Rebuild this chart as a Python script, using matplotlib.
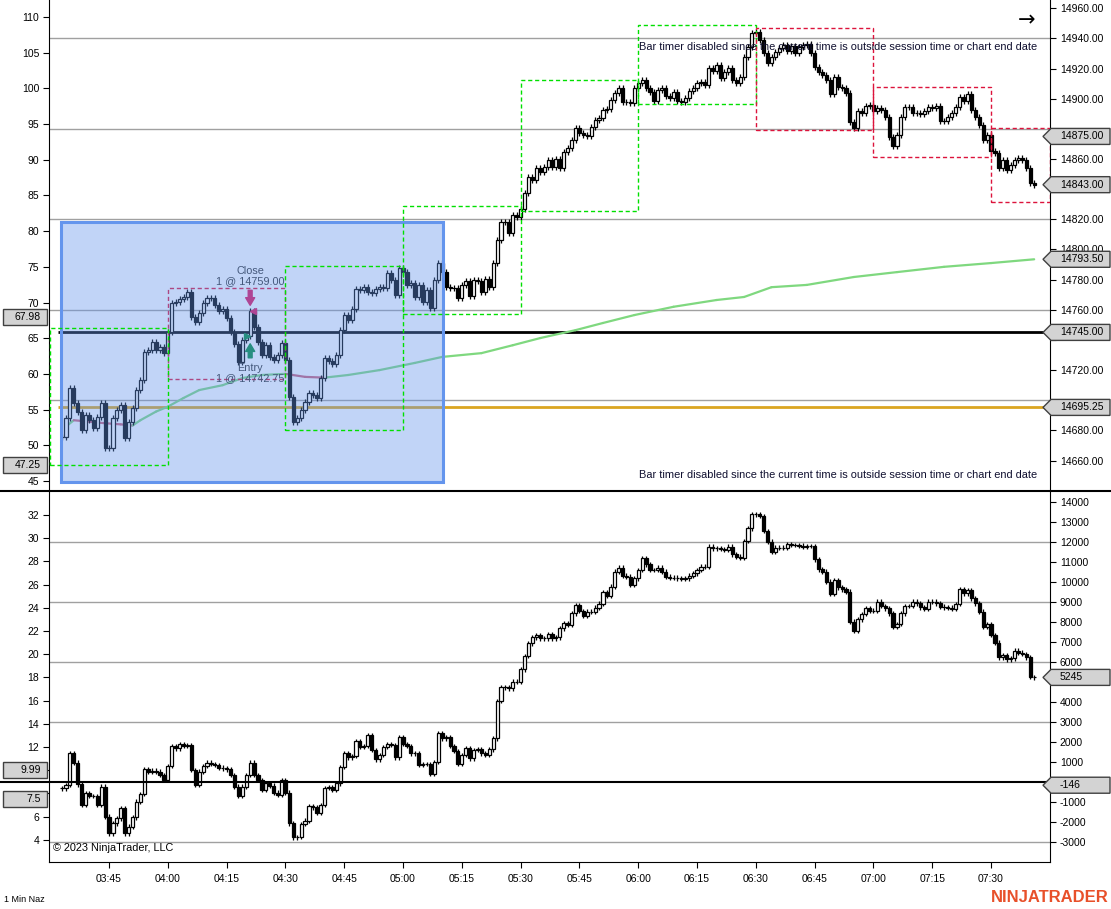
import matplotlib
matplotlib.use('Agg')
import matplotlib.pyplot as plt
import matplotlib.patches as patches
from matplotlib.lines import Line2D
from matplotlib.transforms import IdentityTransform, offset_copy
import numpy as np

plt.rcParams['font.family'] = ['Liberation Sans', 'DejaVu Sans']

# ---- data (1 min bars, first bar 03:33) ----
START = '03:33'

price_close = [
    14675.5, 14688.25, 14708, 14698.25, 14692.25, 14680.25, 14690.25, 14687, 14681.5, 14689,
    14698.25, 14668.25, 14668.25, 14688.25, 14693.5, 14697, 14675, 14685.5, 14695, 14706.75,
    14713.5, 14732, 14733.25, 14738.75, 14733.25, 14735.25, 14731.5, 14745.25, 14764.5, 14765.25,
    14767.25, 14768.5, 14771.75, 14755.25, 14752, 14758, 14764.5, 14767.75, 14767.75, 14763.25,
    14759.25, 14760.5, 14754.5, 14745.25, 14737.25, 14725.5, 14740, 14742.75, 14759.0, 14748.5,
    14738.75, 14730, 14736.75, 14728.75, 14726.75, 14730, 14738, 14726.75, 14702.25, 14685.5,
    14688.25, 14693.5, 14699, 14704.75, 14703.5, 14701.5, 14714.75, 14728, 14726, 14724,
    14730, 14746.5, 14756.5, 14753.25, 14760.5, 14773.75, 14773, 14775, 14771.75, 14771.25,
    14773.75, 14775, 14774.5, 14784.5, 14779.75, 14769.75, 14787.75, 14785, 14776.5, 14777.75,
    14768.5, 14776.5, 14765.25, 14773, 14761.25, 14779.75, 14791, 14785, 14775, 14774.5,
    14774.5, 14767.75, 14776.5, 14779, 14769.25, 14779.75, 14779, 14771.75, 14780.5, 14775,
    14791, 14806.25, 14818.25, 14818.25, 14811, 14823, 14821.5, 14827, 14837.5, 14848,
    14846, 14854, 14851.5, 14854.75, 14859.5, 14854.75, 14860, 14854, 14864.75, 14867.25,
    14872.5, 14880.5, 14877.25, 14876, 14875.25, 14881.25, 14886, 14887.25, 14892.5, 14893.25,
    14899.25, 14903.75, 14907, 14897.75, 14897.75, 14897.25, 14907, 14910.5, 14912.5, 14907,
    14904.5, 14898.5, 14905.75, 14907, 14901.75, 14900.5, 14904.5, 14898.5, 14897.75, 14900.5,
    14905, 14907, 14910.5, 14911, 14909, 14920.5, 14918.5, 14922.5, 14913.75, 14917.75,
    14920.5, 14912.5, 14910.5, 14914.5, 14927.75, 14934.25, 14943.5, 14944.25, 14939, 14930.25,
    14923.75, 14927.75, 14931, 14933.75, 14935.75, 14931.75, 14935, 14930.25, 14934.25, 14935.75,
    14936.25, 14930.25, 14921, 14917.75, 14915.75, 14912.5, 14903, 14914.5, 14907.75, 14907,
    14903.75, 14884.5, 14880.5, 14892, 14890.5, 14895.25, 14896, 14892, 14894, 14892.5,
    14888, 14874.5, 14868.75, 14876, 14888, 14894.5, 14894.5, 14890.5, 14890.5, 14890,
    14892, 14894.5, 14894, 14895.25, 14885.25, 14885.25, 14888, 14890.5, 14894.5, 14901.25,
    14898.5, 14903.25, 14892.5, 14888, 14882.5, 14872.5, 14876, 14865.25, 14864, 14854,
    14859.5, 14852.75, 14856, 14859.5, 14860.75, 14859.5, 14854, 14844, 14843,
]

delta_close = [
    -302, -136, 1448, 981, -102, -1136, -552, -686, -680, -1136,
    -219, -1719, -2553, -2053, -1803, -1303, -2553, -2219, -1753, -969,
    -586, 648, 531, 581, 531, 365, 114, 815, 1815, 1698,
    1915, 1815, 1865, 615, -135, 531, 815, 981, 915, 865,
    731, 698, 648, 365, -219, -686, -219, 365, 981, 365,
    114, -386, -52, -169, -519, -636, 114, -519, -2053, -2753,
    -2720, -2086, -1919, -1186, -1250, -1519, -1135, -285, -220, -385,
    -50, 780, 1447, 1247, 1315, 2080, 1780, 1815, 2365, 1615,
    1147, 1364, 1780, 1914, 1864, 1247, 2247, 1914, 1814, 1447,
    1480, 864, 914, 914, 414, 1030, 2480, 2197, 2247, 1814,
    1580, 914, 1364, 1697, 1197, 1614, 1647, 1447, 1364, 1647,
    2197, 4064, 4748, 4748, 4698, 5031, 5031, 5648, 6315, 6948,
    7248, 7350, 7198, 7198, 7415, 7198, 7248, 7700, 7947, 7865,
    8448, 8864, 8564, 8331, 8531, 8531, 8731, 8931, 9498, 9331,
    9781, 10531, 10731, 10331, 10281, 9864, 10198, 10615, 11198, 10898,
    10615, 10615, 10731, 10531, 10281, 10231, 10231, 10198, 10165, 10198,
    10331, 10448, 10615, 10781, 10781, 11781, 11698, 11698, 11665, 11615,
    11781, 11398, 11281, 11231, 12065, 12698, 13398, 13398, 13315, 12565,
    12031, 11531, 11731, 11731, 11731, 11898, 11865, 11865, 11832, 11782,
    11815, 11815, 11148, 10648, 10531, 10031, 9414, 10115, 9748, 9648,
    9531, 8031, 7581, 8148, 8414, 8698, 8581, 8581, 9031, 8815,
    8698, 8448, 7781, 7915, 8448, 8815, 8815, 9031, 8948, 8748,
    8681, 9031, 9031, 8948, 8781, 8748, 8731, 8681, 8915, 9648,
    9448, 9615, 9198, 8948, 8531, 7781, 7898, 7364, 6981, 6248,
    6364, 6148, 6198, 6581, 6481, 6415, 6248, 5280, 5245,
]

# moving average read at some bars
ma_idx = [1, 3, 7, 11, 15, 18, 20, 24, 27, 31, 35, 41, 46, 51, 57, 62, 67, 73, 81,
          90, 97, 107, 115, 122, 131, 138, 146, 156, 167, 174, 181, 190, 202, 213,
          225, 237, 248]
ma_val = [14682.5, 14686.75, 14685.75, 14684.75, 14684.0, 14683.25, 14686.75, 14692.5,
          14695.75, 14701.5, 14706.75, 14710.0, 14714.75, 14716.75, 14717.5, 14715.5,
          14715.0, 14716.75, 14720.0, 14724.75, 14728.75, 14731.25, 14736.5, 14741.25,
          14746.5, 14751.25, 14756.5, 14762.0, 14766.5, 14768.5, 14775.0, 14776.5,
          14781.75, 14785.0, 14788.5, 14791.0, 14793.5]

# 30 min range boxes
box_start = ['03:30', '04:00', '04:30', '05:00', '05:30', '06:00', '06:30', '07:00', '07:30']
box_high = [14748, 14774.25, 14789, 14829, 14912.5, 14949, 14947, 14907.75, 14880.5]
box_low = [14657, 14714, 14680.25, 14757.25, 14825.5, 14896.5, 14879.25, 14861.5, 14831.5]
box_up = [True, False, True, True, True, True, False, False, False]

blue_start, blue_end = '03:33', '05:10'
blue_high, blue_low = 14818.25, 14646.0

black_level = 14745.0
gold_level = 14695.25

trade_time = '04:21'
entry_price = 14742.75
exit_price = 14759.00

right_marks = ['14875.00', '14843.00', '14793.50', '14745.00', '14695.25']
left_marks = ['67.98', '47.25']
bottom_right_marks = ['5245', '-146']
bottom_left_marks = ['9.99', '7.5']

x_labels = ['03:45', '04:00', '04:15', '04:30', '04:45', '05:00', '05:15', '05:30',
            '05:45', '06:00', '06:15', '06:30', '06:45', '07:00', '07:15', '07:30']

timer_msg = 'Bar timer disabled since the current time is outside session time or chart end date'


def minutes(t):
    h, m = t.split(':')
    return int(h) * 60 + int(m)


def tidx(t):
    return minutes(t) - minutes(START)


W, H = 1111, 909
fig = plt.figure(figsize=(W / 100, H / 100), dpi=100)


def frac(x0, y0, x1, y1):
    return [x0 / W, 1 - y1 / H, (x1 - x0) / W, (y1 - y0) / H]


ax = fig.add_axes(frac(49, 0, 1050, 491))
axb = fig.add_axes(frac(49, 492, 1050, 862), sharex=ax)
XMIN, XMAX = -3.32, 252.04
ax.set_xlim(XMIN, XMAX)
ax.set_ylim(14639.8, 14965.5)
axb.set_ylim(-3985, 14515)

axl = ax.twinx()
axl.set_ylim(43.61, 112.38)
axbl = axb.twinx()
axbl.set_ylim(2.09, 33.98)

for a in (ax, axb):
    a.yaxis.tick_right()
for a in (axl, axbl):
    a.yaxis.tick_left()


def ypix(a, v):
    return H - a.transData.transform((0, v))[1]


def set_ticks(a, values, fmt, marks):
    # tick labels that sit under a value box are left out
    labels = []
    for v in values:
        hidden = any(abs(ypix(a, v) - ypix(a, float(m))) < 9 for m in marks)
        labels.append('' if hidden else fmt % v)
    a.set_yticks(values)
    a.set_yticklabels(labels)


set_ticks(ax, np.arange(14660, 14961, 20), '%.2f', right_marks)
set_ticks(axl, np.arange(45, 111, 5), '%d', left_marks)
set_ticks(axb, np.arange(-3000, 14001, 1000), '%d', bottom_right_marks)
set_ticks(axbl, np.arange(4, 33, 2), '%d', bottom_left_marks)

for a in (ax, axl, axb, axbl):
    a.tick_params(axis='y', direction='out', length=4, width=0.8, labelsize=7.5,
                  pad=3, colors='black')
    for s in a.spines.values():
        s.set_visible(False)
    a.patch.set_visible(False)
for a in (ax, axb):
    a.spines['right'].set_visible(True)
    a.spines['left'].set_visible(True)
axb.spines['bottom'].set_visible(True)

ax.tick_params(axis='x', bottom=False, labelbottom=False)
axb.set_xticks([tidx(t) for t in x_labels])
axb.set_xticklabels(x_labels)
axb.tick_params(axis='x', direction='out', length=4, width=0.8, labelsize=7.5, pad=5)

# grid lines
for v in [14940, 14880, 14820, 14760, 14700, 14640]:
    ax.axhline(v, color='#a0a0a0', lw=1, zorder=1)
for v in [12000, 9000, 6000, 3000, -3000]:
    axb.axhline(v, color='#a0a0a0', lw=1, zorder=1)

# horizontal levels
ax.hlines(black_level, -1, XMAX, color='black', lw=2, zorder=2)
ax.hlines(gold_level, -1, XMAX, color='#daa520', lw=2, zorder=2)


def draw_candles(a, closes, wick):
    c = np.asarray(closes, float)
    o = np.r_[c[0], c[:-1]]
    idx = np.arange(len(c))
    lo = np.minimum(o, c)
    hi = np.maximum(o, c)
    a.vlines(idx, lo - wick, hi + wick, color='black', lw=0.9, zorder=4)
    up = c >= o
    a.bar(idx[up], (hi - lo)[up], bottom=lo[up], width=0.8, facecolor='white',
          edgecolor='black', linewidth=0.9, zorder=4.1)
    a.bar(idx[~up], (hi - lo)[~up], bottom=lo[~up], width=0.8, facecolor='black',
          edgecolor='black', linewidth=0.9, zorder=4.1)


draw_candles(ax, price_close, 2.0)
draw_candles(axb, delta_close, 110)

# moving average coloured by slope
for k in range(len(ma_idx) - 1):
    col = '#c8607a' if ma_val[k + 1] < ma_val[k] else '#7fd87f'
    ax.plot(ma_idx[k:k + 2], ma_val[k:k + 2], color=col, lw=1.6, zorder=3,
            solid_capstyle='round')

# range boxes
for t, hi, lo, up in zip(box_start, box_high, box_low, box_up):
    x0 = tidx(t)
    x1 = min(x0 + 30, XMAX)
    col = '#00e000' if up else '#dc143c'
    z = 7 if (up or x0 > 100) else 5
    ax.add_patch(patches.Rectangle((x0, lo), x1 - x0, hi - lo, fill=False,
                                   edgecolor=col, lw=1.0, linestyle=(0, (3, 2)),
                                   zorder=z))

# trade markers
ti = tidx(trade_time)
up5 = offset_copy(ax.transData, fig=fig, y=6, units='dots')
up20 = offset_copy(ax.transData, fig=fig, y=21, units='dots')
dn8 = offset_copy(ax.transData, fig=fig, y=-8, units='dots')
dn22 = offset_copy(ax.transData, fig=fig, y=-22, units='dots')
arr = 'simple,head_length=0.55,head_width=0.65,tail_width=0.28'
ax.annotate('', xy=(ti, exit_price), xycoords=up5, xytext=(ti, exit_price),
            textcoords=up20,
            arrowprops=dict(arrowstyle=arr, color='#e0105a', shrinkA=0, shrinkB=0),
            zorder=5)
ax.annotate('', xy=(ti, entry_price), xycoords=dn8, xytext=(ti, entry_price),
            textcoords=dn22,
            arrowprops=dict(arrowstyle=arr, color='#008a3a', shrinkA=0, shrinkB=0),
            zorder=5)
ax.plot(ti + 0.75, exit_price, marker='<', ms=5, color='#e0105a', zorder=5)
ax.plot(ti - 0.75, entry_price, marker='>', ms=5, color='#008a3a', zorder=5)
ax.annotate('Close\n1 @ %.2f' % exit_price, xy=(ti, exit_price), xytext=(0, 25),
            textcoords='offset pixels', ha='center', va='bottom', fontsize=7.8,
            color='#303030', linespacing=1.1, zorder=5)
ax.annotate('Entry\n1 @ %.2f' % entry_price, xy=(ti, entry_price), xytext=(0, -27),
            textcoords='offset pixels', ha='center', va='top', fontsize=7.8,
            color='#303030', linespacing=1.1, zorder=5)

# blue highlight region
bx0, bx1 = tidx(blue_start) - 0.25, tidx(blue_end) + 0.25
ax.add_patch(patches.Rectangle((bx0, blue_low), bx1 - bx0, blue_high - blue_low,
                               facecolor='#6495ed', alpha=0.4, edgecolor='none',
                               zorder=6))
ax.add_patch(patches.Rectangle((bx0, blue_low), bx1 - bx0, blue_high - blue_low,
                               fill=False, edgecolor='#6495ed', lw=2.2, zorder=6.5))

# ---- figure level decorations (pixel coordinates) ----
IT = IdentityTransform()


def fy(y):
    return H - y


def hline_px(x0, x1, y, **kw):
    fig.add_artist(Line2D([x0, x1], [fy(y), fy(y)], transform=IT, **kw))


hline_px(0, W, 491, color='black', lw=1.5)
hline_px(0, 1050, ypix(axb, 0), color='black', lw=1.5)


def right_box(a, s):
    y = ypix(a, float(s))
    pts = [(1043, fy(y)), (1051, fy(y - 8)), (1110, fy(y - 8)), (1110, fy(y + 8)),
           (1051, fy(y + 8))]
    fig.add_artist(patches.Polygon(pts, closed=True, transform=IT, facecolor='#d3d3d3',
                                   edgecolor='#404040', lw=1, zorder=3))
    fig.text(1060, fy(y), s, transform=IT, ha='left', va='center', fontsize=7.5,
             zorder=4)


def left_box(a, s):
    y = ypix(a, float(s))
    fig.add_artist(patches.Rectangle((3, fy(y + 8)), 44, 16, transform=IT,
                                     facecolor='#d3d3d3', edgecolor='#404040',
                                     lw=1, zorder=3))
    fig.text(41, fy(y), s, transform=IT, ha='right', va='center', fontsize=7.5,
             zorder=4)


for s in right_marks:
    right_box(ax, s)
for s in bottom_right_marks:
    right_box(axb, s)
for s in left_marks:
    left_box(axl, s)
for s in bottom_left_marks:
    left_box(axbl, s)

for y in (47, 475):
    fig.text(1037, fy(y), timer_msg, transform=IT, ha='right', va='center',
             fontsize=7.9, color='#101030')
fig.text(1027, fy(20), '\u2192', transform=IT, ha='center', va='center',
         fontsize=15, family='DejaVu Sans')
fig.text(53, fy(848), '\u00a9 2023 NinjaTrader, LLC', transform=IT, ha='left',
         va='center', fontsize=7.8)
fig.text(4, fy(899), '1 Min Naz', transform=IT, ha='left', va='center', fontsize=6.5)
fig.text(1109, fy(898), 'NINJATRADER', transform=IT, ha='right', va='center',
         fontsize=12, fontweight='bold', color='#e8502a')

fig.savefig('out.png', dpi=100)
